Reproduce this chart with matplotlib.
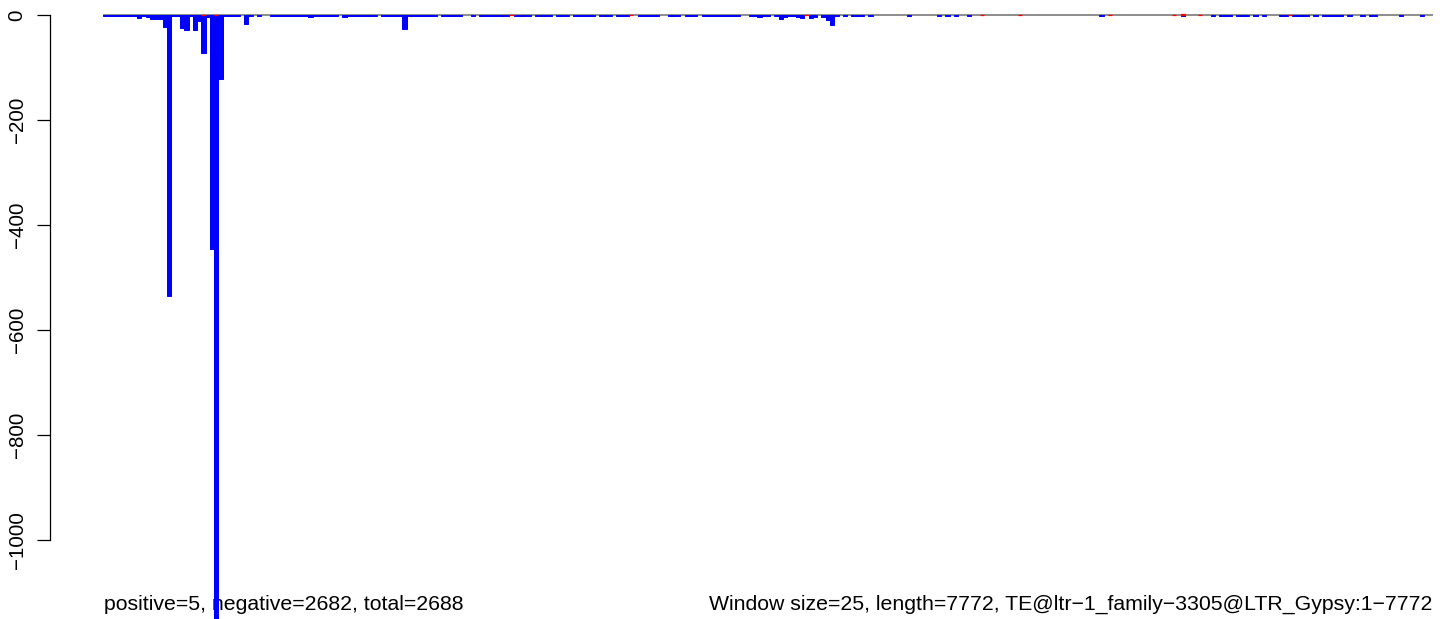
import numpy as np
import matplotlib
matplotlib.use('Agg')
import matplotlib.pyplot as plt

plt.rcParams['font.family'] = ['Liberation Sans', 'DejaVu Sans']

# window counts, one value per 25 bp window (311 windows)
neg = [
	-2, -1, -2, -1, -1, -2, -2, -1, -5, -1,
	-3, -8, -8, -8, -22, -535, -1, -1, -24, -28,
	-1, -29, -12, -72, -3, -445, -1160, -122, -2, -1,
	-1, -1, 0, -18, -1, 0, -1, 0, 0, -1,
	-1, -1, -1, -1, -1, -1, -1, -1, -3, -1,
	-1, -1, -1, -1, -1, 0, -3, -1, -1, -1,
	-1, -1, -1, -1, 0, -1, -1, -1, -1, -1,
	-27, -1, -1, -1, -1, -1, -1, -1, 0, -1,
	-1, -1, -1, -1, 0, 0, -1, 0, -1, -1,
	-1, -1, -1, -2, -1, 0, -1, -1, -1, -1,
	0, -1, -2, -1, -1, 0, -2, -1, -1, 0,
	-1, -1, -1, -1, -1, 0, -1, -1, -1, 0,
	-1, -1, -1, 0, 0, -1, -1, -1, -1, -1,
	0, 0, -1, -1, -1, 0, -1, -1, -1, 0,
	-1, -1, -1, -1, -2, -1, -1, -1, -1, 0,
	0, -1, -1, -3, -1, -1, 0, -1, -7, -3,
	-1, -1, -3, -6, 0, -6, -3, 0, -4, -10,
	-19, -1, 0, -1, 0, -1, -1, -1, 0, -1,
	0, 0, 0, 0, 0, 0, 0, 0, -1, 0,
	0, 0, 0, 0, 0, -1, 0, -1, 0, -1,
	0, 0, -1, 0, 0, 0, 0, 0, 0, 0,
	0, 0, 0, 0, 0, 0, 0, 0, 0, 0,
	0, 0, 0, 0, 0, 0, 0, 0, 0, 0,
	0, 0, 0, -1, 0, 0, 0, 0, 0, 0,
	0, 0, 0, 0, 0, 0, 0, 0, 0, 0,
	0, 0, -1, 0, 0, 0, 0, 0, 0, -1,
	0, -1, -1, -1, 0, -1, -1, -1, 0, -1,
	0, -1, 0, 0, 0, -1, -1, 0, -1, -1,
	-1, -1, 0, -1, 0, -1, -1, -1, -1, -1,
	0, -1, 0, 0, -1, 0, -1, -1, 0, 0,
	0, 0, 0, -1, 0, 0, 0, 0, -1, 0,
	0,
]
pos_idx = [23, 26, 95, 123, 164, 205, 214, 235, 250, 252, 256, 277]
pos_val = [0.6, 0.6, 0.6, 0.6, 0.6, 0.6, 0.6, 0.6, 0.6, 2.5, 0.6, 0.6]

yticks = [0, -200, -400, -600, -800, -1000]
left_label = 'positive=5, negative=2682, total=2688'
right_label = 'Window size=25, length=7772, TE@ltr\u22121_family\u22123305@LTR_Gypsy:1\u22127772'

W, H = 1444, 619
fig = plt.figure(figsize=(W / 100, H / 100), dpi=100)
ax = fig.add_axes([103 / W, 0, 1330 / W, 1])
ax.patch.set_visible(False)

neg = np.array(neg, dtype=float)
nwin = len(neg)
x = np.arange(nwin)

# baseline
ax.plot([0, nwin], [0, 0], color='#6E6E6E', lw=1.1, zorder=1, solid_capstyle='butt')

m = neg < 0
ax.bar(x[m], neg[m], width=1, align='edge', color='#0000FF', edgecolor='#0000FF',
	linewidth=0.72, zorder=2)
ax.bar(pos_idx, pos_val, width=1, align='edge', color='#FF0000', edgecolor='#FF0000',
	linewidth=0.9, zorder=3)

# pixel -> data: 0 at y=15px, 0.525 px per unit
ax.set_xlim(0, nwin)
ax.set_ylim(-(H - 15) / 0.525, 15 / 0.525)

for s in ['top', 'right', 'bottom']:
	ax.spines[s].set_visible(False)
ax.spines['left'].set_position(('outward', 53 * 0.72))
ax.spines['left'].set_bounds(-1000, 0)
ax.spines['left'].set_linewidth(0.9)
ax.set_xticks([])
ax.set_yticks(yticks)
ax.set_yticklabels([f'{v}'.replace('-', '\u2212') for v in yticks], rotation=90, va='center')
ax.tick_params(axis='y', direction='out', length=13 * 0.72, width=0.9, pad=7.5, labelsize=14.8)

ax.text(104 / W, 1 - 610 / H, left_label, transform=fig.transFigure, fontsize=15.3,
	ha='left', va='baseline', zorder=0.5, clip_on=False)
ax.text(1432 / W, 1 - 610 / H, right_label, transform=fig.transFigure, fontsize=15.3,
	ha='right', va='baseline', zorder=0.5, clip_on=False)

fig.savefig('out.png', dpi=100)
